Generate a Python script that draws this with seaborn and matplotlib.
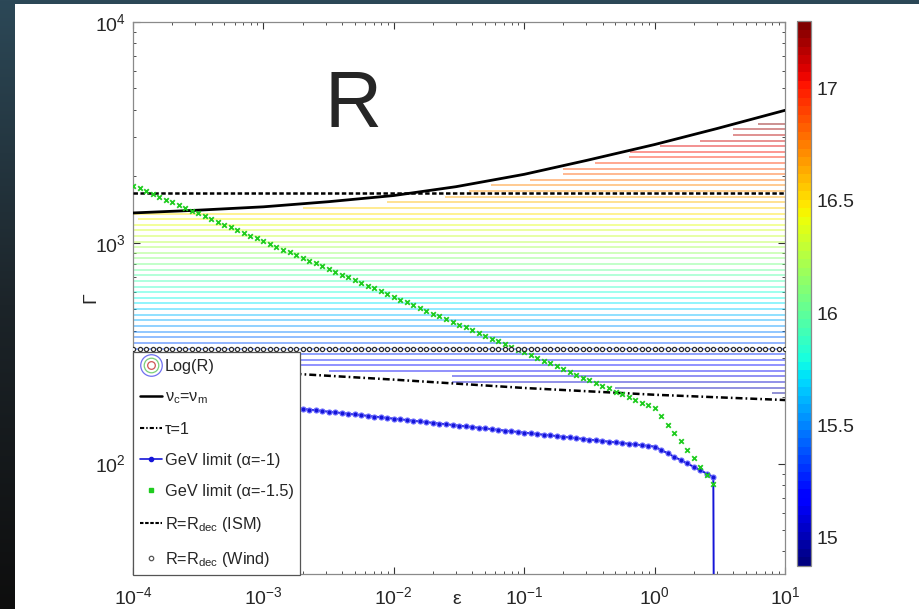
import matplotlib

matplotlib.use("Agg")
import matplotlib as mpl
import matplotlib.pyplot as plt
import numpy as np
import pandas
import seaborn as sns
from matplotlib.colors import LinearSegmentedColormap, Normalize
from matplotlib.legend_handler import HandlerTuple
from matplotlib.lines import Line2D
from matplotlib.patches import Rectangle

# ---- data ----
# epsilon grid of the markers (0.05 dex steps from 1e-4 to 10)
EPS_GRID = np.logspace(-4, 1, 101)

# GeV limit (alpha=-1), one value per grid point up to eps ~ 2.8
GEV_A1 = [
    213.8, 212.2, 210.7, 209.2, 207.7, 206.2, 204.7, 203.2, 201.7, 200.3,
    198.8, 197.4, 195.9, 194.5, 193.1, 191.7, 190.3, 188.9, 187.6, 186.2,
    184.8, 183.5, 182.2, 180.9, 179.5, 178.2, 176.9, 175.6, 174.4, 173.1,
    171.8, 170.6, 169.4, 168.1, 166.9, 165.7, 164.5, 163.3, 162.1, 160.9,
    159.8, 158.6, 157.5, 156.3, 155.2, 154.1, 152.9, 151.8, 150.7, 149.6,
    148.5, 147.5, 146.4, 145.3, 144.3, 143.2, 142.2, 141.1, 140.1, 139.1,
    138.1, 137.1, 136.1, 135.1, 134.2, 133.2, 132.2, 131.3, 130.3, 129.4,
    128.4, 127.5, 126.6, 125.7, 124.8, 123.8, 123.0, 122.1, 121.2, 120.3,
    119.4, 115.3, 111.3, 107.4, 103.7, 100.1, 96.7, 93.3, 90.1, 87.0,
]
GEV_A1_TAIL = 1e-6  # curve drops to zero after the last point

# GeV limit (alpha=-1.5)
GEV_A15 = [
    1815, 1764, 1713, 1664, 1617, 1570, 1526, 1482, 1440, 1398,
    1358, 1320, 1282, 1245, 1210, 1175, 1141, 1109, 1077, 1046,
    1016, 987, 959, 932, 905, 879, 854, 830, 806, 783,
    761, 739, 718, 697, 677, 658, 639, 621, 603, 586,
    569, 553, 537, 522, 507, 492, 478, 465, 451, 438,
    426, 414, 402, 390, 379, 368, 358, 348, 338, 328,
    319, 310, 301, 292, 284, 276, 268, 260, 253, 245,
    238, 232, 225, 219, 212, 206, 200, 195, 189, 184,
    178, 164, 150, 137, 126, 115, 106, 97, 89, 81,
]

# nu_c = nu_m
VCVM_EPS = [1e-4, 3.16e-4, 1e-3, 3.16e-3, 1e-2, 3e-2, 1e-1, 3e-1, 1, 3, 10]
VCVM_GAMMA = [1365, 1405, 1455, 1535, 1637, 1795, 2042, 2360, 2786, 3290, 3981]

# tau = 1
TAU_EPS = [1e-4, 1e-3, 1e-2, 1e-1, 1, 10]
TAU_GAMMA = [287, 260, 240, 220, 205, 194]

# R = R_dec
ISM_GAMMA = 1682
WIND_GAMMA = 329

# Log(R) contour lines: Gamma level, Log(R) value, eps where the line starts
CONTOUR_GAMMA = [
    3463, 3266, 3081, 2905, 2740, 2584, 2437, 2298, 2168, 2044,
    1928, 1818, 1715, 1617, 1525, 1438, 1357, 1279, 1206, 1138,
    1073, 1012, 954, 900, 849, 800, 755, 712, 671, 633,
    597, 563, 531, 501, 472, 445, 420, 396, 374, 352,
    332, 313, 295, 279, 263, 248, 234, 220, 208,
]
CONTOUR_LOGR = [
    17.28, 17.23, 17.18, 17.13, 17.09, 17.04, 16.99, 16.94, 16.89, 16.84,
    16.79, 16.74, 16.70, 16.65, 16.60, 16.55, 16.50, 16.45, 16.40, 16.35,
    16.31, 16.26, 16.21, 16.16, 16.11, 16.06, 16.01, 15.96, 15.92, 15.87,
    15.82, 15.77, 15.72, 15.67, 15.62, 15.58, 15.53, 15.48, 15.43, 15.38,
    15.33, 15.28, 15.23, 15.19, 15.14, 15.09, 15.04, 14.99, 14.94,
]
CONTOUR_EPS_START = [
    6.17, 3.98, 3.98, 2.24, 1.10, 0.646, 0.631, 0.347, 0.20, 0.20,
    0.11, 0.056, 0.038, 0.0245, 0.0089, 0.002, 1e-4, 1.1e-4, 1e-4, 1e-4,
    1e-4, 1e-4, 1e-4, 1e-4, 1e-4, 1e-4, 1e-4, 1e-4, 1e-4, 1e-4,
    1e-4, 1e-4, 1e-4, 1e-4, 1e-4, 1e-4, 1e-4, 1e-4, 1e-4, 1e-4,
    1e-4, 1e-4, 1e-4, 1e-4, 0.0032, 0.028, 0.028, 0.5, 7.9,
]
EPS_MAX = 10

LOGR_MIN, LOGR_MAX = 14.875, 17.30
CBAR_TICKS = [15, 15.5, 16, 16.5, 17]

# ---- style ----
sns.set_style("ticks")
plt.rcParams["font.family"] = ["Liberation Sans", "DejaVu Sans"]
plt.rcParams["mathtext.fontset"] = "custom"
plt.rcParams["mathtext.rm"] = "Liberation Sans"
plt.rcParams["mathtext.it"] = "Liberation Sans:italic"
plt.rcParams["mathtext.default"] = "regular"
plt.rcParams["lines.scale_dashes"] = False

fig = plt.figure(figsize=(9.2, 6.09), dpi=100)

# slide background
bg = fig.add_axes([0, 0, 1, 1], zorder=-10)
bg_cmap = LinearSegmentedColormap.from_list("bg", ["#2c4857", "#1c2429", "#0e0e0e"])
bg.imshow(np.linspace(0, 1, 256)[:, None], aspect="auto", cmap=bg_cmap,
          extent=[0, 1, 0, 1])
bg.axis("off")
fig.add_artist(Rectangle((15 / 920, 0), 1, 605 / 609, transform=fig.transFigure,
                         facecolor="white", edgecolor="none", zorder=-5))

ax = fig.add_axes([0.1446, 0.0575, 0.7087, 0.9064])
ax.set_xscale("log")
ax.set_yscale("log")

jet = mpl.colormaps["jet"]
norm = Normalize(LOGR_MIN, LOGR_MAX)
ax.hlines(CONTOUR_GAMMA, CONTOUR_EPS_START, EPS_MAX,
          colors=jet(norm(np.array(CONTOUR_LOGR))), linewidth=1.1, alpha=0.55, zorder=1)

vcvm = pandas.DataFrame({"eps": VCVM_EPS, "gamma": VCVM_GAMMA})
sns.lineplot(data=vcvm, x="eps", y="gamma", color="black", linewidth=2.0,
             errorbar=None, ax=ax, zorder=4)

tau = pandas.DataFrame({"eps": TAU_EPS, "gamma": TAU_GAMMA})
sns.lineplot(data=tau, x="eps", y="gamma", color="black", linewidth=1.8,
             linestyle=(0, (5, 2.2, 1.2, 2.2)), errorbar=None, ax=ax, zorder=4)

ism = pandas.DataFrame({"eps": [EPS_GRID[0], EPS_GRID[-1]], "gamma": [ISM_GAMMA] * 2})
sns.lineplot(data=ism, x="eps", y="gamma", color="black", linewidth=1.8,
             linestyle=(0, (3.2, 1.8)), errorbar=None, ax=ax, zorder=4)

n1 = len(GEV_A1)
gev1 = pandas.DataFrame({"eps": EPS_GRID[: n1 + 1], "gamma": GEV_A1 + [GEV_A1_TAIL]})
sns.lineplot(data=gev1, x="eps", y="gamma", color="#1515d8", linewidth=1.4,
             marker="o", markersize=3.6, markeredgecolor="#6a6aff",
             markeredgewidth=0.8, errorbar=None, ax=ax, zorder=5)

gev15 = pandas.DataFrame({"eps": EPS_GRID[: len(GEV_A15)], "gamma": GEV_A15})
sns.scatterplot(data=gev15, x="eps", y="gamma", marker="x", s=11, color="#1fcc1f",
                linewidth=1.3, ax=ax, zorder=6)

wind = pandas.DataFrame({"eps": EPS_GRID, "gamma": [WIND_GAMMA] * len(EPS_GRID)})
sns.scatterplot(data=wind, x="eps", y="gamma", marker="o", s=9,
                facecolors="white", edgecolors="#2e2e2e", linewidth=0.9,
                ax=ax, zorder=6)

ax.set_xlim(1e-4, 10)
ax.set_ylim(10 ** 1.5, 1e4)
ax.set_xlabel("ε", fontsize=14)
ax.xaxis.set_label_coords(0.497, -0.03)
ax.set_ylabel("Γ", fontsize=14)
ax.yaxis.set_label_coords(-0.051, 0.5)
ax.tick_params(which="both", direction="in", top=True, right=True,
               color="#333333", labelsize=14)
ax.tick_params(which="major", length=5, width=0.8)
ax.tick_params(which="minor", length=2.5, width=0.6)
ax.tick_params(axis="x", pad=8.5)
ax.tick_params(axis="y", pad=5)
for s in ax.spines.values():
    s.set_color("#8a8a8a")
    s.set_linewidth(0.9)

ax.text(0.337, 0.846, "R", transform=ax.transAxes, fontsize=57,
        ha="center", va="center")

# legend
logr_handle = (
    Line2D([], [], ls="none", marker="o", ms=15.5, mfc="none", mec="#6f6ff0", mew=0.9),
    Line2D([], [], ls="none", marker="o", ms=10.5, mfc="none", mec="#7ad07a", mew=0.9),
    Line2D([], [], ls="none", marker="o", ms=5.5, mfc="none", mec="#d05555", mew=0.9),
)
handles = [
    logr_handle,
    Line2D([], [], color="black", lw=1.8),
    Line2D([], [], color="black", lw=1.5, ls=(0, (3, 1.5, 1, 1.5))),
    Line2D([], [], color="#1515d8", lw=1.2, marker="o", ms=3),
    Line2D([], [], ls="none", marker="s", ms=2.5, color="#1fcc1f"),
    Line2D([], [], color="black", lw=1.5, ls=(0, (2.5, 1.2))),
    Line2D([], [], ls="none", marker="o", ms=3.2, mfc="white", mec="#555555", mew=0.9),
]
labels = [
    "Log(R)",
    r"$\nu_c$=$\nu_m$",
    "τ=1",
    "GeV limit (α=-1)",
    "GeV limit (α=-1.5)",
    r"R=R$_{dec}$ (ISM)",
    r"R=R$_{dec}$ (Wind)",
]
leg = ax.legend(handles, labels, loc="upper left", bbox_to_anchor=(0, 0.402),
                borderaxespad=0, fontsize=11.7, frameon=True, fancybox=False,
                framealpha=1, edgecolor="#555555", handlelength=1.4,
                handletextpad=0.15, labelspacing=0.98, borderpad=0.4,
                handler_map={tuple: HandlerTuple(ndivide=1)})
leg.get_frame().set_linewidth(0.9)
leg.set_zorder(10)

# colorbar
cax = fig.add_axes([797 / 920, 43 / 609, 14 / 920, 545 / 609])
sm = mpl.cm.ScalarMappable(norm=norm, cmap=mpl.colormaps["jet"].resampled(64))
cb = fig.colorbar(sm, cax=cax, ticks=CBAR_TICKS)
cb.ax.set_yticklabels(["15", "15.5", "16", "16.5", "17"])
cb.ax.tick_params(direction="in", length=4, width=0.7, color="#333333",
                  labelsize=14, pad=4)
cb.outline.set_edgecolor("#8a8a8a")
cb.outline.set_linewidth(0.9)

fig.savefig("out.png", dpi=100)
plt.close(fig)
